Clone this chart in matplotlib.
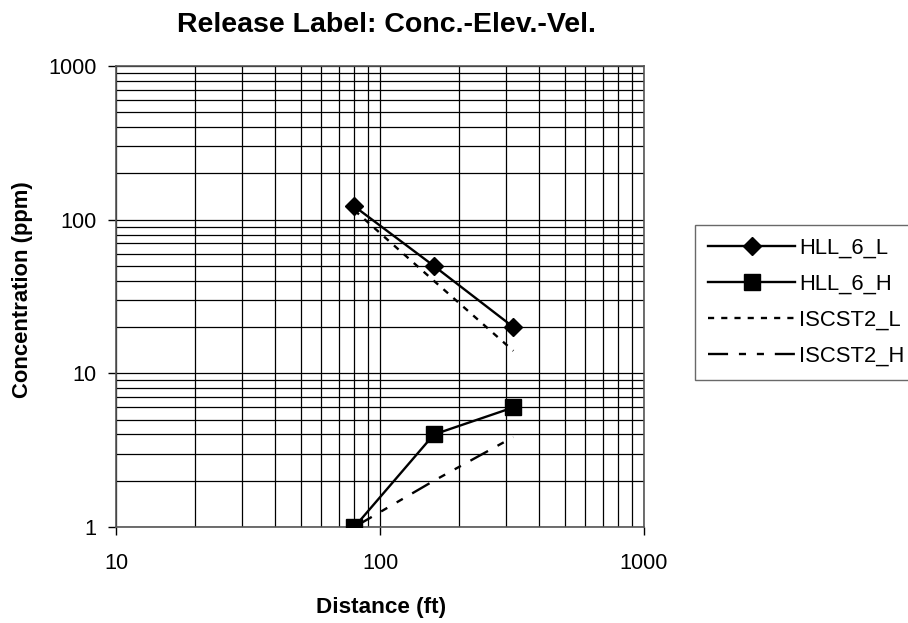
import matplotlib
matplotlib.use("Agg")
import matplotlib.pyplot as plt
from matplotlib.ticker import LogLocator, NullFormatter, FixedLocator, FixedFormatter

plt.rcParams["font.family"] = ["Liberation Sans", "DejaVu Sans"]

# data
distance = [80, 160, 320]
hll_6_l = [122, 50, 20]
hll_6_h = [1.0, 4.0, 6.0]
iscst2_l = [115, 40, 14]
iscst2_h = [1.0, 2.0, 3.85]

x_ticks = [10, 100, 1000]
y_ticks = [1, 10, 100, 1000]

fig = plt.figure(figsize=(9.08, 6.23), dpi=100, facecolor="white")
ax = fig.add_axes([116 / 908, 1 - 527 / 623, (644 - 116) / 908, (527 - 66) / 623])

ax.set_xscale("log")
ax.set_yscale("log")
ax.set_xlim(10, 1000)
ax.set_ylim(1, 1000)

lw = 1.7
ax.plot(distance, hll_6_l, color="black", lw=lw, marker="D", ms=8.7, label="HLL_6_L", zorder=5)
ax.plot(distance, hll_6_h, color="black", lw=lw, marker="s", ms=11.5, label="HLL_6_H", zorder=5)
ax.plot(distance, iscst2_l, color="black", lw=lw, linestyle=(0, (2.6, 3.0)), label="ISCST2_L", zorder=4)
ax.plot(distance, iscst2_h, color="black", lw=lw,
        linestyle=(0, (8.5, 4.6, 3.0, 4.6, 3.0, 4.6)), label="ISCST2_H", zorder=4)

# grid on every decade subdivision
ax.xaxis.set_major_locator(FixedLocator(x_ticks))
ax.xaxis.set_major_formatter(FixedFormatter([str(v) for v in x_ticks]))
ax.yaxis.set_major_locator(FixedLocator(y_ticks))
ax.yaxis.set_major_formatter(FixedFormatter([str(v) for v in y_ticks]))
ax.xaxis.set_minor_locator(LogLocator(base=10, subs=range(2, 10)))
ax.yaxis.set_minor_locator(LogLocator(base=10, subs=range(2, 10)))
ax.xaxis.set_minor_formatter(NullFormatter())
ax.yaxis.set_minor_formatter(NullFormatter())
ax.grid(which="both", color="black", lw=0.9)
ax.set_axisbelow(True)

ax.tick_params(which="major", direction="out", length=6, width=1, labelsize=15.7, colors="black")
ax.tick_params(axis="x", which="major", pad=13)
ax.tick_params(axis="y", which="major", pad=8)
ax.tick_params(which="minor", length=0)
for spine in ax.spines.values():
    spine.set_color("#555555")
    spine.set_linewidth(1.2)

fig.text(386 / 908, 1 - 32 / 623, "Release Label: Conc.-Elev.-Vel.", ha="center", va="baseline",
         fontsize=20.5, fontweight="bold")
fig.text(381 / 908, 1 - 608 / 623, "Distance (ft)", ha="center", va="center",
         fontsize=16.2, fontweight="bold")
fig.text(23 / 908, 1 - 290 / 623, "Concentration (ppm)", ha="center", va="center",
         rotation=90, fontsize=15.8, fontweight="bold")

leg = fig.legend(loc="upper left", bbox_to_anchor=(695 / 908, 1 - 225 / 623), fontsize=15.8,
                 frameon=True, fancybox=False, handlelength=3.95, handletextpad=0.2,
                 labelspacing=0.68, borderpad=0.6, borderaxespad=0)
leg.get_frame().set_edgecolor("#444444")
leg.get_frame().set_linewidth(1.0)

fig.savefig("out.png", dpi=100, facecolor="white")
